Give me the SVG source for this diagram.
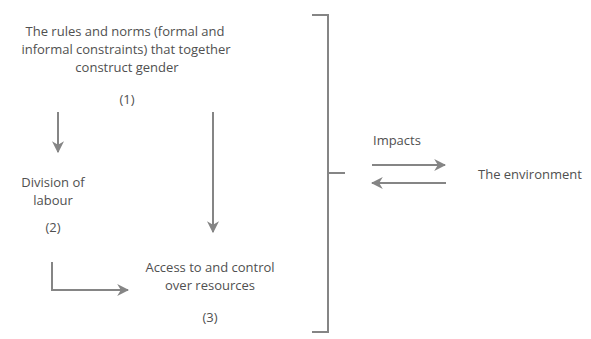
<svg xmlns="http://www.w3.org/2000/svg" width="591" height="339" viewBox="0 0 591 339">
<style>
  text { font-family: "Open Sans", "DejaVu Sans", sans-serif; font-size: 13px; fill: #505050; }
  .c { text-anchor: middle; }
  .ln { stroke: #858585; stroke-width: 2; fill: none; }
</style>
<defs>
  <marker id="ah" viewBox="0 0 10 10" refX="9" refY="5" markerWidth="6" markerHeight="6" orient="auto" markerUnits="strokeWidth">
    <path d="M0,0 L10,5 L0,10 L3,5 z" fill="#858585"/>
  </marker>
</defs>
<rect width="591" height="339" fill="#ffffff"/>
<g id="node-rules">
  <text class="c" x="125" y="36">The rules and norms (formal and</text>
  <text class="c" x="126" y="54">informal constraints) that together</text>
  <text class="c" x="127" y="72">construct gender</text>
  <text class="c" x="127" y="104">(1)</text>
</g>
<g id="node-division">
  <text class="c" x="53" y="187">Division of</text>
  <text class="c" x="53" y="205">labour</text>
  <text class="c" x="53" y="232">(2)</text>
</g>
<g id="node-access">
  <text class="c" x="210" y="272">Access to and control</text>
  <text class="c" x="210" y="290">over resources</text>
  <text class="c" x="210" y="322">(3)</text>
</g>
<g id="node-environment">
  <text x="478" y="179">The environment</text>
</g>
<g id="connectors">
  <path class="ln" d="M58,112 V152" marker-end="url(#ah)"/>
  <path class="ln" d="M213,112 V232" marker-end="url(#ah)"/>
  <path class="ln" d="M52,262 V290 H128" marker-end="url(#ah)"/>
  <path class="ln" d="M312,15 H328 V332 H312 M328,173 H345"/>
  <path class="ln" d="M372,165 H445" marker-end="url(#ah)"/>
  <path class="ln" d="M446,183 H372" marker-end="url(#ah)"/>
  <text x="373" y="145">Impacts</text>
</g>
</svg>
